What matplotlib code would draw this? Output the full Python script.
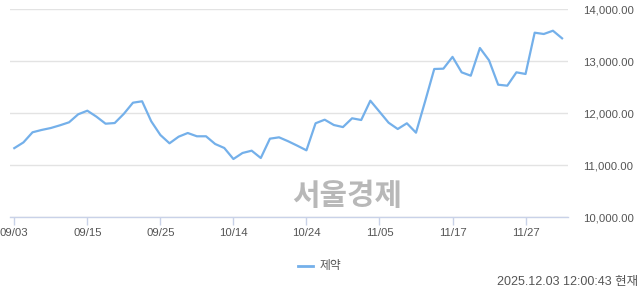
import matplotlib.pyplot as plt
from matplotlib.lines import Line2D

plt.rcParams['font.family'] = ['Liberation Sans', 'Noto Sans CJK KR', 'DejaVu Sans']

# trading days 2025-09-03 .. 2025-12-03
dates = ['09/03', '09/04', '09/05', '09/08', '09/09', '09/10', '09/11', '09/12',
         '09/15', '09/16', '09/17', '09/18', '09/19', '09/22', '09/23', '09/24',
         '09/25', '09/26', '09/29', '09/30', '10/01', '10/02', '10/10', '10/13',
         '10/14', '10/15', '10/16', '10/17', '10/20', '10/21', '10/22', '10/23',
         '10/24', '10/27', '10/28', '10/29', '10/30', '10/31', '11/03', '11/04',
         '11/05', '11/06', '11/07', '11/10', '11/11', '11/12', '11/13', '11/14',
         '11/17', '11/18', '11/19', '11/20', '11/21', '11/24', '11/25', '11/26',
         '11/27', '11/28', '12/01', '12/02', '12/03']
values = [11330, 11440, 11635, 11680, 11717, 11769, 11827, 11981,
          12050, 11935, 11800, 11813, 11990, 12204, 12231, 11846,
          11583, 11423, 11550, 11621, 11558, 11558, 11410, 11333,
          11121, 11237, 11281, 11140, 11512, 11538, 11462, 11377,
          11288, 11808, 11877, 11775, 11735, 11904, 11871, 12242,
          12031, 11819, 11698, 11808, 11627, 12230, 12852, 12858,
          13085, 12788, 12723, 13256, 13019, 12550, 12531, 12788,
          12756, 13550, 13525, 13588, 13442]
tick_labels = ['09/03', '09/15', '09/25', '10/14', '10/24', '11/05', '11/17', '11/27']
y_ticks = [10000, 11000, 12000, 13000, 14000]
series_name = '제약'
stamp = '2025.12.03 12:00:43 현재'

line_color = '#74b0ea'
text_color = '#555555'

fig = plt.figure(figsize=(6.4, 2.94), dpi=100)
ax = fig.add_axes([10 / 640, 1 - 217.3 / 294, 558 / 640, 208 / 294])

x = list(range(len(dates)))
ax.plot(x, values, color=line_color, lw=1.6, zorder=3, clip_on=False)

ax.set_xlim(-0.47, 60.65)
ax.set_ylim(10000, 14000)

ax.set_xticks([dates.index(d) for d in tick_labels])
ax.set_xticklabels(tick_labels)
ax.set_yticks(y_ticks)
ax.set_yticklabels(['{:,.2f}'.format(v) for v in y_ticks])
ax.yaxis.tick_right()
ax.tick_params(axis='y', length=0, pad=11, labelsize=8.2, labelcolor=text_color)
ax.tick_params(axis='x', length=6, width=1, color='#c9d2e8', pad=1.5,
               labelsize=8.2, labelcolor=text_color)

ax.grid(axis='y', color='#e3e3e3', lw=1)
ax.set_axisbelow(True)
for s in ['top', 'left', 'right']:
    ax.spines[s].set_visible(False)
ax.spines['bottom'].set_color('#c9d2e8')
ax.spines['bottom'].set_linewidth(1)

# watermark
fig.text(347 / 640, 1 - 196 / 294, '서울경제', fontsize=21.5, fontweight='bold',
         color='#b8b8b8', ha='center', va='center', family=['Noto Sans CJK KR'])

# legend
fig.add_artist(Line2D([298 / 640, 313 / 640], [1 - 265.7 / 294] * 2,
                      color=line_color, lw=2))
fig.text(320 / 640, 1 - 265.5 / 294, series_name, fontsize=8.5, color=text_color,
         ha='left', va='center')

fig.text(638 / 640, 1 - 282.3 / 294, stamp, fontsize=9, color=text_color,
         ha='right', va='center')

fig.savefig('out.png', dpi=100)
